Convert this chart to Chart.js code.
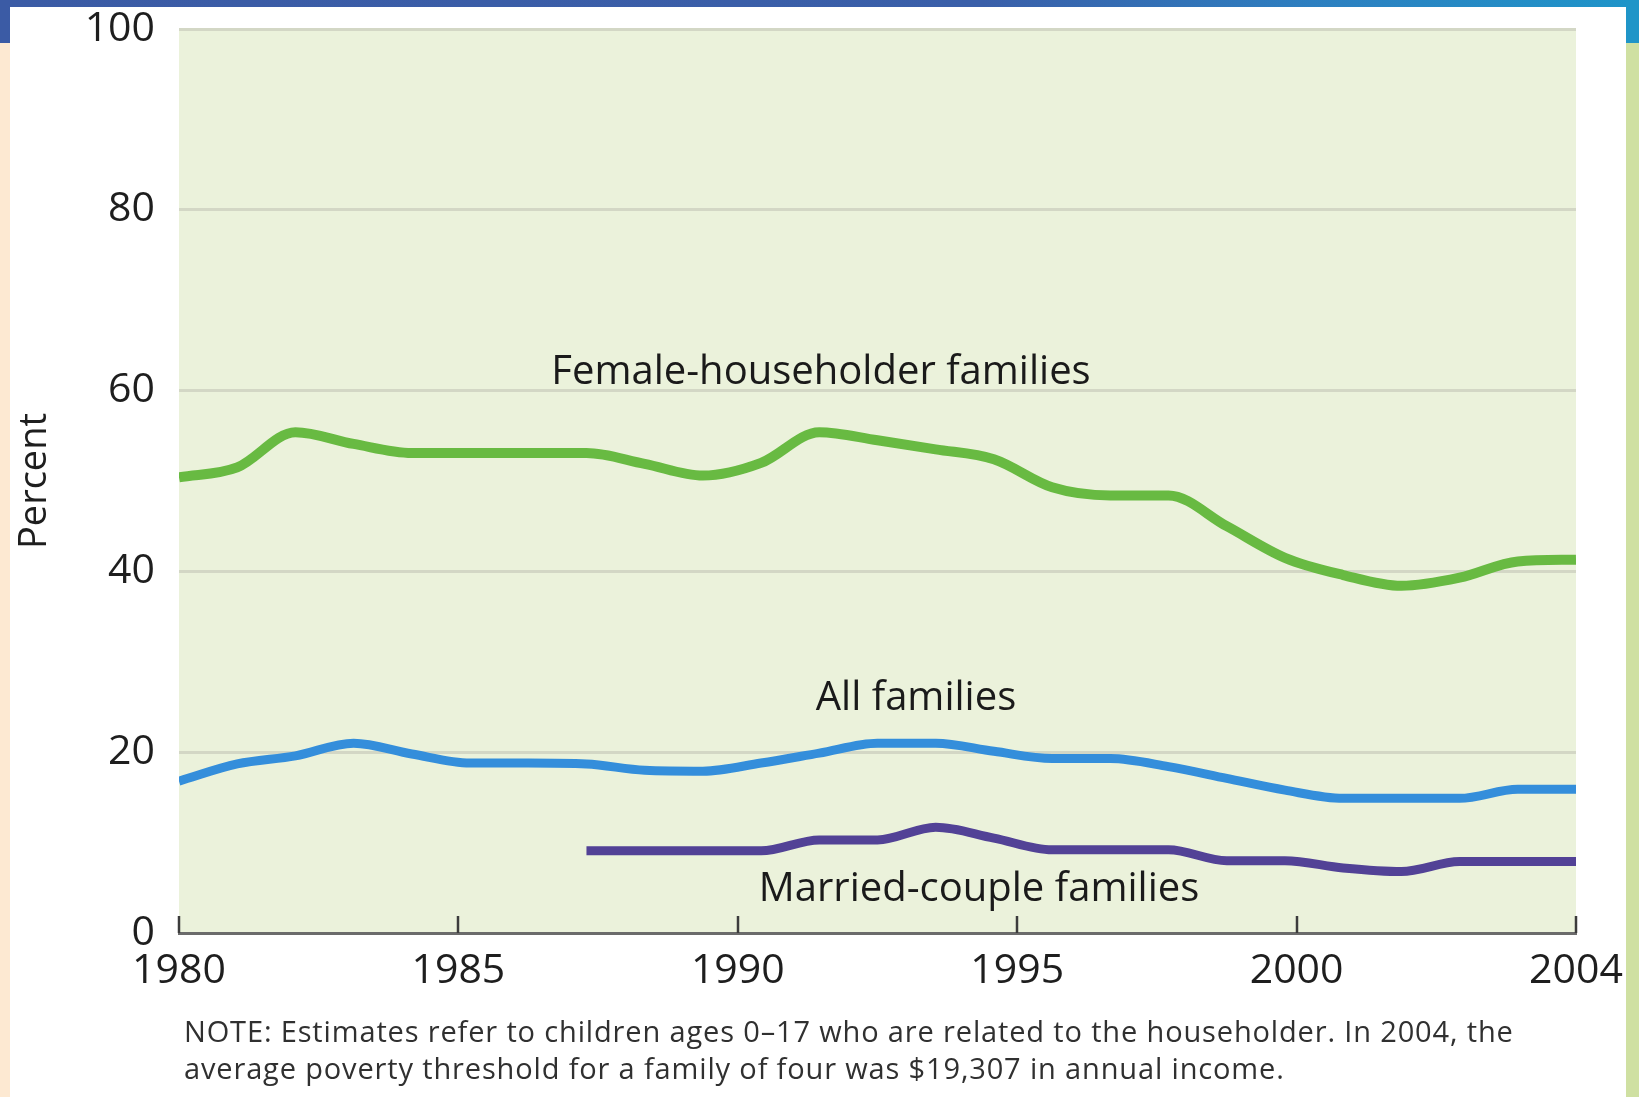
<!DOCTYPE html>
<html>
<head>
<meta charset="utf-8">
<script src="https://cdn.jsdelivr.net/npm/chart.js@4/dist/chart.umd.min.js"></script>
<style>
  html, body { margin: 0; padding: 0; }
  body { width: 1639px; height: 1097px; position: relative; overflow: hidden; background: #fde9d2; font-family: "Open Sans", sans-serif; }
  #topband { position: absolute; left: 0; top: 0; width: 1639px; height: 7px; background: linear-gradient(90deg, #3b5ba5 0%, #3a5fa9 60%, #2d7fc0 80%, #1e95c9 100%); }
  #lefttop { position: absolute; left: 0; top: 0; width: 10px; height: 43px; background: #3b5ba5; }
  #rightstrip { position: absolute; left: 1626px; top: 0; width: 13px; height: 1097px; background: #cfe0a2; }
  #righttop { position: absolute; left: 1626px; top: 0; width: 13px; height: 43px; background: #1f95c8; }
  #panel { position: absolute; left: 10px; top: 7px; width: 1616px; height: 1090px; background: #ffffff; }
  #chart { position: absolute; left: 0; top: 0; }
  .lbl { position: absolute; transform: translate(-50%, -50%); white-space: nowrap; color: #1a1a1a; font-size: 40px; line-height: 1; }
  #note { position: absolute; left: 184px; top: 1012px; font-size: 29px; letter-spacing: 0.85px; line-height: 37px; color: #303030; white-space: nowrap; }
</style>
</head>
<body>
<div id="topband"></div>
<div id="lefttop"></div>
<div id="rightstrip"></div>
<div id="righttop"></div>
<div id="panel"></div>
<canvas id="chart" width="1639" height="1097"></canvas>
<div class="lbl" id="lblFemale" style="left:821px; top:369px;">Female-householder families</div>
<div class="lbl" id="lblAll" style="left:916px; top:695px;">All families</div>
<div class="lbl" id="lblMarried" style="left:979px; top:886px;">Married-couple families</div>
<div id="note">NOTE: Estimates refer to children ages 0–17 who are related to the householder. In 2004, the<br>average poverty threshold for a family of four was $19,307 in annual income.</div>
<script>
// ---- Data ----
const years = [1980,1981,1982,1983,1984,1985,1986,1987,1988,1989,1990,1991,1992,1993,1994,1995,1996,1997,1998,1999,2000,2001,2002,2003,2004];
const femaleHouseholder = [50.4,51.5,55.4,54.1,53.1,53.1,53.1,53.1,51.9,50.6,52.0,55.4,54.5,53.5,52.4,49.3,48.4,48.4,45.0,41.5,39.6,38.4,39.3,41.1,41.3];
const allFamilies = [16.8,18.7,19.6,21.0,19.8,18.8,18.8,18.7,18.0,17.9,18.8,19.9,21.0,21.0,20.1,19.3,19.3,18.4,17.1,15.8,14.9,14.9,14.9,15.9,15.9];
const marriedCouple = [null,null,null,null,null,null,null,9.1,9.1,9.1,9.1,10.3,10.3,11.7,10.5,9.2,9.2,9.2,8.0,8.0,7.2,6.8,7.9,7.9,7.9];
const xTickLabels = ['1980','1985','1990','1995','2000','2004'];
const yTicks = [0,20,40,60,80,100];
const seriesNames = ['Female-householder families','All families','Married-couple families'];

const toPoints = vals => years.map((yr, i) => ({ x: yr, y: vals[i] }));

const plotBg = {
  id: 'plotBg',
  beforeDraw(chart) {
    const { ctx, chartArea: a } = chart;
    ctx.save();
    ctx.fillStyle = 'rgb(235,242,219)';
    ctx.fillRect(a.left, a.top, a.right - a.left, a.bottom - a.top);
    ctx.restore();
  }
};
const innerTicks = {
  id: 'innerTicks',
  afterDraw(chart) {
    const { ctx, chartArea: a } = chart;
    const xs = chart.scales.x;
    ctx.save();
    ctx.strokeStyle = '#3c3c3c';
    ctx.lineWidth = 2.5;
    xs.ticks.forEach((t, i) => {
      const px = Math.round(xs.getPixelForTick(i));
      ctx.beginPath();
      ctx.moveTo(px, a.bottom);
      ctx.lineTo(px, a.bottom - 17);
      ctx.stroke();
    });
    ctx.restore();
  }
};

const tickFont = { family: '"Open Sans", sans-serif', size: 41 };
const noPad = s => { s.paddingTop = 0; s.paddingBottom = 0; s.paddingLeft = 0; s.paddingRight = 0; };

new Chart(document.getElementById('chart'), {
  type: 'line',
  data: {
    datasets: [
      { label: seriesNames[0], data: toPoints(femaleHouseholder), borderColor: '#68ba42', borderWidth: 10 },
      { label: seriesNames[1], data: toPoints(allFamilies), borderColor: '#348edb', borderWidth: 9 },
      { label: seriesNames[2], data: toPoints(marriedCouple), borderColor: '#524296', borderWidth: 9 }
    ]
  },
  options: {
    responsive: false,
    animation: false,
    devicePixelRatio: 1,
    spanGaps: false,
    elements: {
      point: { radius: 0, hoverRadius: 0 },
      line: { cubicInterpolationMode: 'monotone', borderCapStyle: 'butt', borderJoinStyle: 'round', fill: false }
    },
    layout: { padding: { left: 0, right: 63, top: 29, bottom: 0 } },
    plugins: { legend: { display: false }, tooltip: { enabled: false } },
    scales: {
      x: {
        type: 'linear',
        min: years[0],
        max: years[years.length - 1],
        afterBuildTicks(scale) {
          const n = xTickLabels.length;
          scale.ticks = xTickLabels.map((_, i) => ({ value: scale.min + i * (scale.max - scale.min) / (n - 1) }));
        },
        afterFit(scale) { scale.height = 164; noPad(scale); },
        grid: { drawOnChartArea: false, drawTicks: false },
        border: { display: true, color: '#6b6b6b', width: 3 },
        ticks: {
          autoSkip: false, maxRotation: 0, minRotation: 0,
          padding: 14,
          color: '#1e1e1e',
          font: tickFont,
          callback: (v, i) => xTickLabels[i]
        }
      },
      y: {
        min: 0,
        max: 100,
        afterBuildTicks(scale) { scale.ticks = yTicks.map(v => ({ value: v })); },
        afterFit(scale) { scale.width = 179; noPad(scale); },
        grid: {
          drawTicks: false,
          lineWidth: 3,
          color: ctx => (ctx.tick && ctx.tick.value === 0) ? 'rgba(0,0,0,0)' : 'rgb(211,215,197)'
        },
        border: { display: false },
        ticks: { padding: 24, color: '#1e1e1e', font: tickFont },
        title: {
          display: true,
          text: 'Percent',
          color: '#1e1e1e',
          font: { family: '"Open Sans", sans-serif', size: 38 },
          padding: { top: 12, bottom: 0 }
        }
      }
    }
  },
  plugins: [plotBg, innerTicks]
});
</script>
</body>
</html>
